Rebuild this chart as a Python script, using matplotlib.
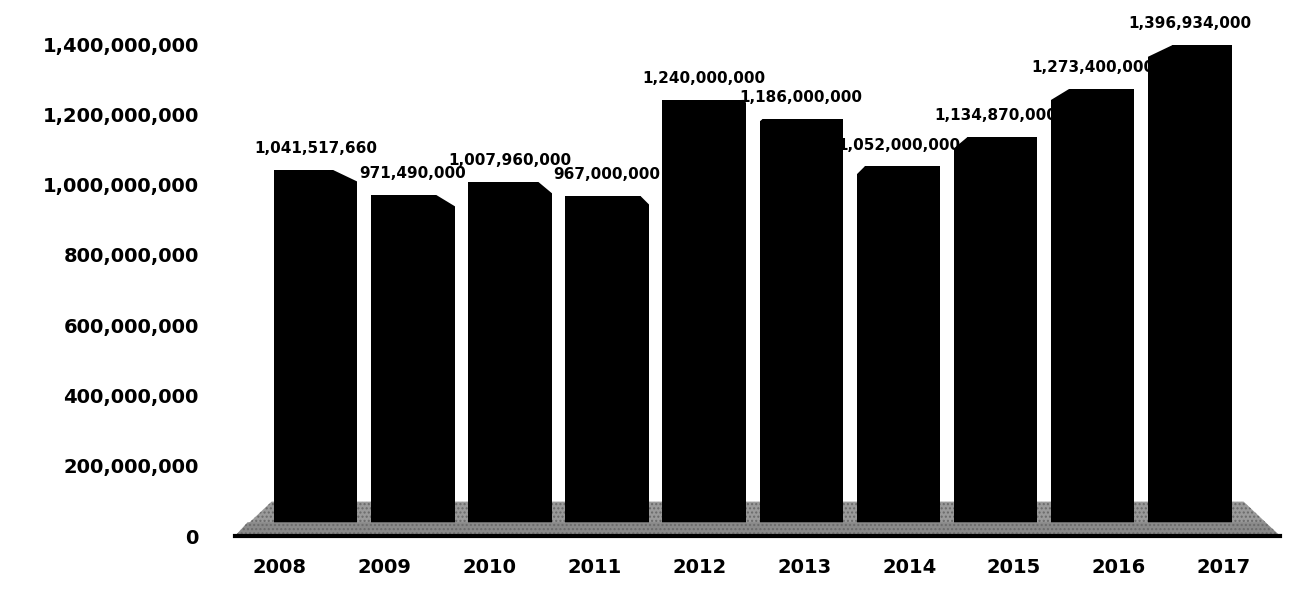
import numpy as np
import matplotlib
matplotlib.use("Agg")
import matplotlib.pyplot as plt
from matplotlib.patches import Polygon
from matplotlib.ticker import FuncFormatter

# data
years = ['2008', '2009', '2010', '2011', '2012', '2013', '2014', '2015', '2016', '2017']
values = [1041517660, 971490000, 1007960000, 967000000, 1240000000,
          1186000000, 1052000000, 1134870000, 1273400000, 1396934000]

fig = plt.figure(figsize=(13.13, 6.11), dpi=100)
ax = fig.add_axes([0.179, 0.1227, 0.796, 0.805])

x = np.arange(len(years))
bars = ax.bar(x, values, width=0.86, color='black', zorder=3)

# cut the top corner of each bar to fake the perspective of the 3d chart
mid = (len(years) - 1) / 2
for i, b in enumerate(bars):
    cw = 0.055 * abs(i - mid)
    ch = 3.4e7 * min(1, abs(i - mid) / 2)
    top = b.get_height()
    if i < mid:
        xr = b.get_x() + b.get_width()
        tri = [(xr - cw, top + 1e7), (xr + 0.01, top + 1e7), (xr + 0.01, top - ch), (xr - cw, top)]
    else:
        xl = b.get_x()
        tri = [(xl + cw, top + 1e7), (xl - 0.01, top + 1e7), (xl - 0.01, top - ch), (xl + cw, top)]
    ax.add_patch(Polygon(tri, closed=True, facecolor='white', edgecolor='none', zorder=3.5))

# 3d-ish floor behind and in front of the bars
floor_back = Polygon([(0.0, 0.0), (0.035, 0.07), (0.965, 0.07), (1.0, 0.0)],
                     closed=True, transform=ax.transAxes, facecolor='#9a9a9a',
                     edgecolor='#6a6a6a', linewidth=0, hatch='....', zorder=1,
                     clip_on=False)
ax.add_patch(floor_back)
floor_front = Polygon([(0.0, 0.0), (0.012, 0.028), (0.985, 0.028), (1.0, 0.0)],
                      closed=True, transform=ax.transAxes, facecolor='#8a8a8a',
                      edgecolor='#6a6a6a', linewidth=0, hatch='....', zorder=4,
                      clip_on=False)
ax.add_patch(floor_front)

for xi, v in zip(x, values):
    ax.annotate(f'{v:,}', (xi, v), xytext=(0, 10), textcoords='offset points',
                ha='center', va='bottom', fontsize=11, fontweight='bold',
                annotation_clip=False, zorder=5)

ax.set_xlim(-0.83, 9.93)
ax.set_ylim(0, 1.4e9)
ax.set_yticks(np.arange(0, 1.4e9 + 1, 2e8))
ax.yaxis.set_major_formatter(FuncFormatter(lambda v, p: f'{int(v):,}'))

# year labels are spread a bit wider than the bars (perspective)
label_pos = x * 1.08 - 0.37
ax.set_xticks(label_pos)
ax.set_xticklabels(years)

ax.tick_params(axis='both', length=0, labelsize=14)
ax.tick_params(axis='y', pad=26)
ax.tick_params(axis='x', pad=16)
for lab in ax.get_xticklabels() + ax.get_yticklabels():
    lab.set_fontweight('bold')

for s in ['top', 'right', 'left']:
    ax.spines[s].set_visible(False)
ax.spines['bottom'].set_linewidth(3)
ax.spines['bottom'].set_zorder(6)
ax.set_facecolor('none')

plt.savefig('out.png', dpi=100)
